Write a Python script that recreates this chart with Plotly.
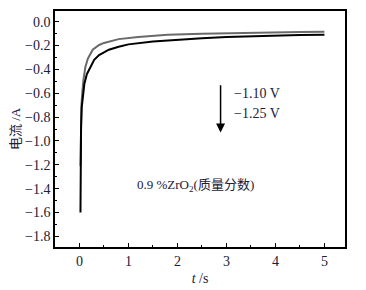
import plotly.graph_objects as go

# −1.10 V curve (gray)
t_110 = [0.02, 0.022, 0.028, 0.04, 0.06, 0.08, 0.12, 0.17, 0.27, 0.4, 0.5, 0.8, 1.2, 1.8, 2.5, 3.0, 3.5, 4.0, 4.5, 5.0]
i_110 = [-1.21, -1.0, -0.85, -0.70, -0.58, -0.49, -0.38, -0.31, -0.235, -0.195, -0.178, -0.146, -0.128, -0.110, -0.100, -0.095, -0.091, -0.088, -0.086, -0.084]

# −1.25 V curve (black)
t_125 = [0.02, 0.022, 0.026, 0.032, 0.045, 0.07, 0.1, 0.15, 0.2, 0.3, 0.4, 0.6, 0.8, 1.0, 1.5, 2.0, 2.5, 3.0, 3.5, 4.0, 4.5, 5.0]
i_125 = [-1.60, -1.30, -1.05, -0.88, -0.72, -0.60, -0.52, -0.44, -0.40, -0.32, -0.28, -0.235, -0.21, -0.19, -0.165, -0.150, -0.138, -0.129, -0.122, -0.117, -0.112, -0.109]

x_ticks = [0, 1, 2, 3, 4, 5]
y_ticks = [0.0, -0.2, -0.4, -0.6, -0.8, -1.0, -1.2, -1.4, -1.6, -1.8]

FONT = "Liberation Serif, Noto Sans CJK SC"
TXT = "#1a2038"

fig = go.Figure()
fig.add_trace(go.Scatter(x=t_110, y=i_110, mode="lines", line=dict(color="#6a6a6a", width=2), name="−1.10 V"))
fig.add_trace(go.Scatter(x=t_125, y=i_125, mode="lines", line=dict(color="#000000", width=2), name="−1.25 V"))

# arrow
fig.add_annotation(x=2.88, y=-0.93, ax=2.88, ay=-0.52, xref="x", yref="y", axref="x", ayref="y",
                   showarrow=True, arrowhead=2, arrowsize=1.2, arrowwidth=1.5, arrowcolor="black", text="")
fig.add_annotation(x=3.12, y=-0.60, text="−1.10 V", showarrow=False, xanchor="left",
                   font=dict(family=FONT, size=14, color=TXT))
fig.add_annotation(x=3.12, y=-0.77, text="−1.25 V", showarrow=False, xanchor="left",
                   font=dict(family=FONT, size=14, color=TXT))
fig.add_annotation(x=1.13, y=-1.37, text="0.9 %ZrO<sub>2</sub>(质量分数)", showarrow=False, xanchor="left",
                   font=dict(family=FONT, size=13, color=TXT))

# page body adds an 8px offset; margins compensate so the plot box lands where the reference has it
fig.update_layout(
    width=366, height=290,
    margin=dict(l=47, r=29, t=3, b=51),
    paper_bgcolor="white", plot_bgcolor="white",
    showlegend=False,
    font=dict(family=FONT, size=14, color=TXT),
)
fig.update_xaxes(
    range=[-0.5, 5.42], tickvals=x_ticks, ticktext=[str(v) for v in x_ticks],
    ticks="inside", ticklen=4, tickcolor="black", tickwidth=1.2,
    minor=dict(dtick=0.5, tick0=0, ticks="inside", ticklen=2, tickcolor="black"),
    showline=True, linecolor="black", linewidth=1.5, mirror=True,
    showgrid=False, zeroline=False, automargin=False,
    title=dict(text="<i>t</i> /s", font=dict(family=FONT, size=14, color=TXT), standoff=6),
    tickfont=dict(family=FONT, size=14, color=TXT),
)
fig.update_yaxes(
    range=[-1.89, 0.09], tickvals=y_ticks, tickformat=".1f",
    ticks="inside", ticklen=4, tickcolor="black", tickwidth=1.2,
    minor=dict(dtick=0.1, tick0=0, ticks="inside", ticklen=2, tickcolor="black"),
    showline=True, linecolor="black", linewidth=1.5, mirror=True,
    showgrid=False, zeroline=False, automargin=False,
    title=dict(text="电流 /A", font=dict(family=FONT, size=13, color=TXT), standoff=2),
    tickfont=dict(family=FONT, size=14, color=TXT),
)

fig.write_html("out.html")
